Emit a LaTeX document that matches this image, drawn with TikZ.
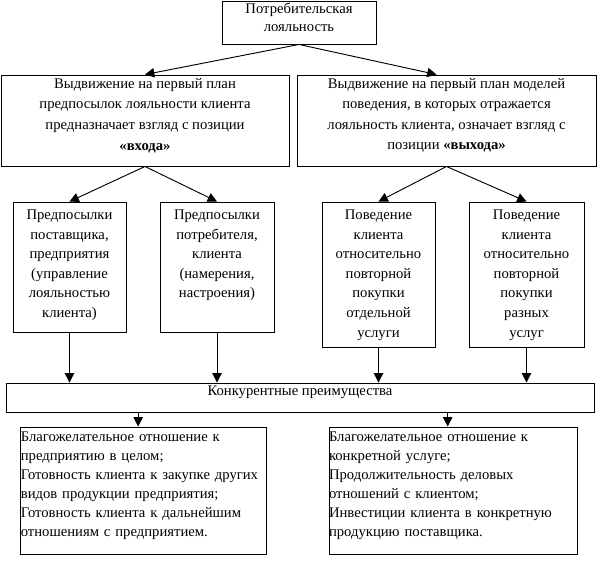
\documentclass[tikz,border=0pt]{standalone}
\usepackage{fontspec}
\setmainfont{Liberation Serif}
\usetikzlibrary{fit,arrows.meta}

\tikzset{
  box/.style={draw, line width=0.7pt, inner sep=0pt, align=center,
    font=\fontsize{11pt}{14.7pt}\selectfont},
  boxtext/.style={anchor=north, inner sep=0pt, align=center,
    font=\fontsize{11pt}{14.7pt}\selectfont},
  arr/.style={line width=0.7pt, -{Triangle[length=7pt,width=7pt]}}
}

\begin{document}
\begin{tikzpicture}[x=0.75pt,y=-0.75pt]
    \useasboundingbox (0,0) rectangle (598,560);

    % Top
    \node[box, fit={(222,1) (376,44)}, font=\fontsize{11pt}{13.6pt}\selectfont] (loyal)
        {Потребительская\\лояльность};

    % Two points of view
    \node[box, fit={(1,75) (289,166)}, font=\fontsize{11pt}{15.4pt}\selectfont] (input)
        {Выдвижение на первый план\\предпосылок лояльности клиента\\предназначает взгляд с позиции\\\textbf{«входа»}};
    \node[box, fit={(297,75) (596,166)}, font=\fontsize{11pt}{15.4pt}\selectfont] (output)
        {Выдвижение на первый план моделей\\поведения, в которых отражается\\лояльность клиента, означает взгляд с\\позиции \textbf{«выхода»}};

    % Small boxes
    \node[box, fit={(13,202) (126,332)}] (supplier) {};
    \node[box, fit={(160,202) (274,332)}] (consumer) {};
    \node[box, fit={(322,202) (435,347)}] (single) {};
    \node[box, fit={(469,202) (584,347)}] (various) {};

    \node[boxtext] (suppliertxt) at ([yshift=-6pt]supplier.north)
        {Предпосылки\\поставщика,\\предприятия\\(управление\\лояльностью\\клиента)};
    \node[boxtext] (consumertxt) at ([yshift=-6pt]consumer.north)
        {Предпосылки\\потребителя,\\клиента\\(намерения,\\настроения)};
    \node[boxtext] (singletxt) at ([yshift=-6pt]single.north)
        {Поведение\\клиента\\относительно\\повторной\\покупки\\отдельной\\услуги};
    \node[boxtext] (varioustxt) at ([yshift=-6pt]various.north)
        {Поведение\\клиента\\относительно\\повторной\\покупки\\разных\\услуг};

    % Advantages
    \node[box, fit={(6,383) (594,412)}] (compet) {Конкурентные преимущества};

    \node[box, fit={(13,427) (274,554)}, align=left, text width=184pt,
          font=\fontsize{11pt}{14.3pt}\selectfont] (general)
        {Благожелательное отношение к\\предприятию в целом;\\Готовность клиента к закупке других\\видов продукции предприятия;\\Готовность клиента к дальнейшим\\отношениям с предприятием.};
    \node[box, fit={(322,427) (584,554)}, align=left, text width=186pt,
          font=\fontsize{11pt}{14.3pt}\selectfont] (specific)
        {Благожелательное отношение к\\конкретной услуге;\\Продолжительность деловых\\отношений с клиентом;\\Инвестиции клиента в конкретную\\продукцию поставщика.};

    % Arrows
    \draw[arr] (loyal.south) -- (input.north);
    \draw[arr] (loyal.south) -- ([xshift=-7.5pt]output.north);
    \draw[arr] (input.south) -- (supplier.north);
    \draw[arr] (input.south) -- (consumer.north);
    \draw[arr] (output.south) -- (single.north);
    \draw[arr] (output.south) -- (various.north);
    \foreach \n in {supplier,consumer,single,various}
        \draw[arr] (\n.south) -- (\n.south |- compet.north);
    \draw[arr] ([xshift=-4pt]general.north |- compet.south) -- ([xshift=-4pt]general.north);
    \draw[arr] ([xshift=-4pt]specific.north |- compet.south) -- ([xshift=-4pt]specific.north);

\end{tikzpicture}
\end{document}
